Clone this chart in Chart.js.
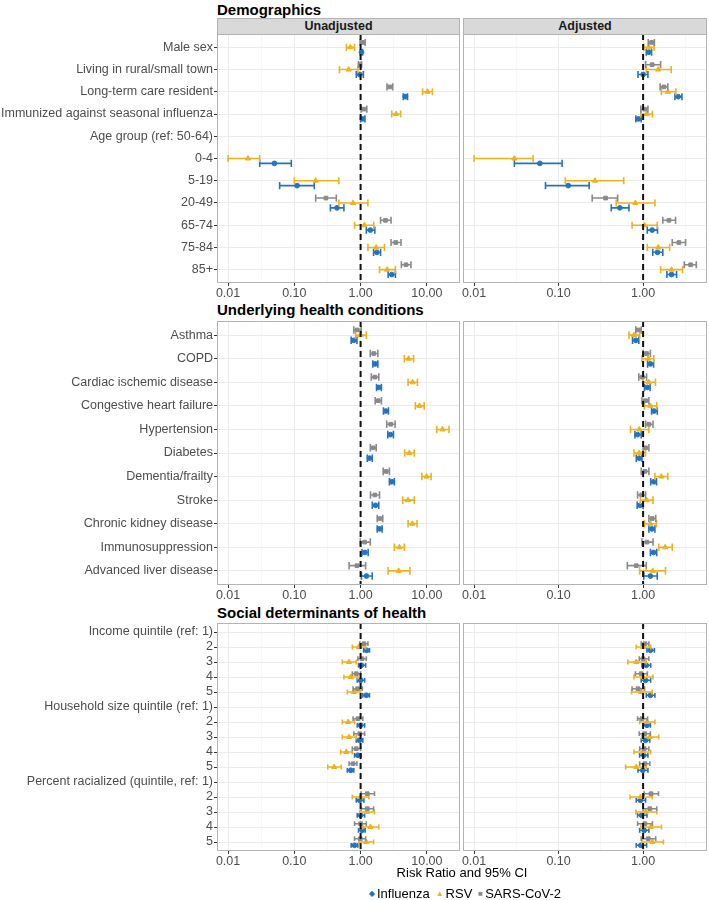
<!DOCTYPE html>
<html>
<head>
<meta charset="utf-8">
<script src="https://cdn.jsdelivr.net/npm/chart.js@4.4.0/dist/chart.umd.min.js"></script>
<style>
  body { margin: 0; background: #fff; font-family: "Liberation Sans", Arial, sans-serif; }
  #wrap { position: relative; width: 709px; height: 900px; overflow: hidden; }
  .box { position: absolute; }
  .title { position: absolute; left: 217px; font-weight: bold; font-size: 15px; color: #000; }
  .strip { position: absolute; top: 18px; height: 15px; background: #D9D9D9; border: 1px solid #B3B3B3;
           text-align: center; font-weight: bold; font-size: 12.5px; line-height: 15px; color: #1A1A1A; box-sizing: content-box; }
  #xtitle { position: absolute; left: 217px; width: 490px; top: 865px; text-align: center; font-size: 13px; color: #000; }
  #legend { position: absolute; left: 217px; width: 490px; top: 886px; text-align: center; font-size: 13px; color: #000; }
  #legend .k { font-size: 8px; vertical-align: 2px; margin: 0 2px 0 6px; }
</style>
</head>
<body>
<div id="wrap">
  <div class="title" style="top:1px">Demographics</div>
  <div class="strip" style="left:217px;width:241px">Unadjusted</div>
  <div class="strip" style="left:463px;width:242px">Adjusted</div>
  <div class="box" style="left:0;top:34px"><canvas id="c1u" width="460" height="267"></canvas></div>
  <div class="box" style="left:455px;top:34px"><canvas id="c1a" width="252" height="267"></canvas></div>

  <div class="title" style="top:301px">Underlying health conditions</div>
  <div class="box" style="left:0;top:321px"><canvas id="c2u" width="460" height="282"></canvas></div>
  <div class="box" style="left:455px;top:321px"><canvas id="c2a" width="252" height="282"></canvas></div>

  <div class="title" style="top:604px">Social determinants of health</div>
  <div class="box" style="left:0;top:623px"><canvas id="c3u" width="460" height="246"></canvas></div>
  <div class="box" style="left:455px;top:623px"><canvas id="c3a" width="252" height="246"></canvas></div>

  <div id="xtitle">Risk Ratio and 95% CI</div>
  <div id="legend"><span class="k" style="color:#2473C3">&#9670;</span>Influenza<span class="k" style="color:#EFB21E">&#9650;</span>RSV<span class="k" style="color:#8A8A8A">&#9632;</span>SARS-CoV-2</div>
</div>
<script>
// row labels
const demoRows = ['Male sex', 'Living in rural/small town', 'Long-term care resident', 'Immunized against seasonal influenza',
  'Age group (ref: 50-64)', '0-4', '5-19', '20-49', '65-74', '75-84', '85+'];
const healthRows = ['Asthma', 'COPD', 'Cardiac ischemic disease', 'Congestive heart failure', 'Hypertension', 'Diabetes',
  'Dementia/frailty', 'Stroke', 'Chronic kidney disease', 'Immunosuppression', 'Advanced liver disease'];
const socialRows = ['Income quintile (ref: 1)', '2', '3', '4', '5', 'Household size quintile (ref: 1)', '2', '3', '4', '5',
  'Percent racialized (quintile, ref: 1)', '2', '3', '4', '5'];

// x ticks
const xTickValues = [0.01, 0.1, 1, 10];
const xTickLabels = ['0.01', '0.10', '1.00', '10.00'];

// [risk ratio, lower CI, upper CI]
const demoUnadjFlu = [[1.03,0.99,1.07],[0.97,0.86,1.10],[4.73,4.4,5.1],[1.07,1.0,1.16],null,[0.05,0.03,0.09],[0.11,0.06,0.20],[0.44,0.35,0.56],[1.40,1.22,1.64],[1.76,1.57,2.0],[2.95,2.6,3.35]];
const demoUnadjRsv = [[0.70,0.61,0.81],[0.66,0.48,0.91],[10.2,8.6,12.1],[3.43,2.95,4.02],null,[0.02,0.01,0.03],[0.21,0.10,0.47],[0.77,0.47,1.29],[1.14,0.81,1.58],[1.72,1.29,2.29],[2.51,1.93,3.35]];
const demoUnadjCov = [[1.07,0.98,1.17],[0.98,0.93,1.03],[2.76,2.5,3.05],[1.12,1.02,1.24],null,null,null,[0.30,0.21,0.43],[2.37,2.0,2.88],[3.39,2.88,4.07],[4.84,4.12,5.75]];

const demoAdjFlu = [[1.17,1.09,1.26],[1.0,0.87,1.14],[2.6,2.38,2.88],[0.88,0.82,0.95],null,[0.06,0.03,0.11],[0.13,0.07,0.23],[0.53,0.42,0.68],[1.28,1.12,1.48],[1.48,1.30,1.71],[2.17,1.91,2.49]];
const demoAdjRsv = [[1.17,1.02,1.35],[1.51,1.09,2.15],[1.96,1.64,2.44],[1.1,0.94,1.29],null,[0.03,0.01,0.05],[0.27,0.12,0.59],[0.81,0.48,1.38],[1.04,0.74,1.47],[1.51,1.12,2.06],[2.17,1.61,2.93]];
const demoAdjCov = [[1.26,1.15,1.36],[1.28,1.07,1.61],[1.76,1.59,1.96],[1.04,0.94,1.14],null,null,null,[0.36,0.25,0.50],[2.02,1.71,2.42],[2.65,2.21,3.18],[3.65,3.07,4.26]];

const healthUnadjFlu = [[0.79,0.72,0.88],[1.66,1.53,1.82],[1.88,1.74,2.06],[2.4,2.21,2.63],[2.82,2.57,3.13],[1.36,1.26,1.5],[2.95,2.72,3.23],[1.68,1.5,1.88],[1.93,1.78,2.11],[1.16,1.05,1.30],[1.22,1.03,1.50]];
const healthUnadjRsv = [[1.0,0.84,1.22],[5.31,4.57,6.31],[6.1,5.2,7.2],[7.76,6.7,9.1],[17.2,14.1,21.6],[5.43,4.62,6.45],[9.9,8.4,11.6],[5.19,4.32,6.45],[6.03,5.2,7.1],[3.85,3.23,4.57],[3.76,2.6,5.55]];
const healthUnadjCov = [[0.89,0.79,1.02],[1.58,1.40,1.82],[1.64,1.45,1.88],[1.84,1.66,2.06],[2.85,2.48,3.31],[1.55,1.40,1.72],[2.43,2.19,2.72],[1.64,1.41,1.93],[1.95,1.78,2.16],[1.15,0.99,1.40],[0.88,0.67,1.19]];

const healthAdjFlu = [[0.82,0.75,0.89],[1.22,1.13,1.33],[1.12,1.04,1.21],[1.35,1.26,1.47],[0.86,0.80,0.95],[0.90,0.83,0.97],[1.34,1.23,1.44],[0.92,0.85,1.0],[1.27,1.17,1.38],[1.33,1.22,1.45],[1.22,1.02,1.47]];
const healthAdjRsv = [[0.78,0.68,0.91],[1.15,0.97,1.34],[1.17,1.0,1.40],[1.22,1.04,1.45],[0.90,0.71,1.17],[0.90,0.78,1.07],[1.64,1.38,1.96],[1.10,0.93,1.31],[1.22,1.04,1.44],[1.83,1.53,2.21],[1.30,0.91,1.84]];
const healthAdjCov = [[0.88,0.82,0.95],[1.10,1.0,1.22],[0.98,0.89,1.10],[1.07,0.97,1.17],[1.17,1.07,1.31],[1.07,1.0,1.17],[1.05,0.95,1.17],[0.96,0.86,1.07],[1.28,1.17,1.41],[1.11,0.97,1.31],[0.83,0.65,1.09]];

const socialUnadjFlu = [null,[1.23,1.11,1.36],[1.03,0.93,1.19],[1.0,0.89,1.15],[1.22,1.08,1.36],null,[1.0,0.89,1.15],[0.96,0.86,1.08],[0.91,0.81,1.02],[0.71,0.63,0.79],null,[0.97,0.86,1.12],[1.0,0.89,1.15],[1.05,0.93,1.17],[0.81,0.72,0.91]];
const socialUnadjRsv = [null,[0.94,0.75,1.19],[0.67,0.53,0.86],[0.71,0.56,0.91],[0.79,0.63,1.0],null,[0.65,0.53,0.81],[0.67,0.53,0.86],[0.61,0.50,0.75],[0.40,0.32,0.51],null,[1.0,0.75,1.33],[1.24,0.97,1.62],[1.41,1.08,1.88],[1.22,0.94,1.57]];
const socialUnadjCov = [null,[1.12,0.97,1.29],[1.05,0.91,1.22],[0.86,0.75,1.0],[0.90,0.77,1.06],null,[0.91,0.77,1.08],[0.97,0.79,1.15],[0.86,0.75,1.0],[0.77,0.67,0.88],null,[1.26,1.02,1.62],[1.26,1.02,1.57],[1.0,0.81,1.22],[0.99,0.81,1.19]];

const socialAdjFlu = [null,[1.22,1.11,1.36],[1.09,0.97,1.23],[1.07,0.95,1.23],[1.22,1.09,1.38],null,[1.11,1.0,1.22],[1.07,0.95,1.2],[1.02,0.91,1.14],[0.99,0.87,1.14],null,[0.93,0.83,1.07],[0.96,0.86,1.11],[1.03,0.91,1.17],[0.94,0.83,1.1]];
const socialAdjRsv = [null,[1.0,0.83,1.23],[0.83,0.66,1.09],[1.0,0.78,1.31],[0.95,0.73,1.28],null,[1.11,0.91,1.38],[1.20,0.96,1.53],[0.99,0.78,1.23],[0.83,0.62,1.09],null,[0.93,0.70,1.28],[1.07,0.82,1.45],[1.23,0.94,1.65],[1.29,0.97,1.74]];
const socialAdjCov = [null,[1.05,0.95,1.17],[1.0,0.9,1.17],[0.95,0.81,1.12],[0.87,0.74,1.04],null,[0.97,0.86,1.13],[1.04,0.9,1.22],[1.03,0.91,1.17],[1.05,0.91,1.2],null,[1.24,1.03,1.52],[1.20,1.0,1.45],[1.05,0.86,1.29],[1.15,0.95,1.41]];

const FLU = '#2473C3', RSV = '#EFB21E', COV = '#8A8A8A';
const TEXT = '#4D4D4D';
const FONT = '"Liberation Sans", Arial, sans-serif';

// panel frame like ggplot
const panelBorder = {
  id: 'panelBorder',
  afterDraw(chart) {
    const { ctx, chartArea: a } = chart;
    ctx.save();
    ctx.strokeStyle = '#B3B3B3';
    ctx.lineWidth = 1;
    ctx.strokeRect(a.left + 0.5, a.top + 0.5, a.width - 1, a.height - 1);
    ctx.restore();
  }
};

function errorBarData(values, offset, cap) {
  const pts = [];
  values.forEach((v, i) => {
    if (!v) return;
    const y = i + offset;
    pts.push({ x: v[1], y: y }, { x: v[2], y: y }, { x: null, y: null });
    pts.push({ x: v[1], y: y - cap }, { x: v[1], y: y + cap }, { x: null, y: null });
    pts.push({ x: v[2], y: y - cap }, { x: v[2], y: y + cap }, { x: null, y: null });
  });
  return pts;
}

function pointData(values, offset) {
  const pts = [];
  values.forEach((v, i) => { if (v) pts.push({ x: v[0], y: i + offset }); });
  return pts;
}

function makePanel(id, rows, flu, rsv, cov, xMin, xMax, left) {
  const n = rows.length;
  const dodge = 0.22, cap = 0.16;
  const series = [
    { vals: cov, color: COV, style: 'rect', r: 2.6, off: -dodge },
    { vals: rsv, color: RSV, style: 'triangle', r: 3, off: 0 },
    { vals: flu, color: FLU, style: 'circle', r: 2.4, off: dodge }
  ];

  const datasets = [{
    type: 'scatter', showLine: true,
    data: [{ x: 1, y: -0.6 }, { x: 1, y: n - 0.4 }],
    borderColor: '#111', borderWidth: 2, borderDash: [6, 4], pointRadius: 0
  }];
  series.forEach(s => {
    datasets.push({
      type: 'scatter', data: pointData(s.vals, s.off),
      pointStyle: s.style, pointRadius: s.r, backgroundColor: s.color, borderColor: s.color, borderWidth: 1
    });
    datasets.push({
      type: 'scatter', showLine: true, spanGaps: false, data: errorBarData(s.vals, s.off, cap),
      borderColor: s.color, borderWidth: 1.6, pointRadius: 0
    });
  });

  // major ticks plus ggplot-style minor gridlines halfway (log) between them
  const gridVals = [];
  xTickValues.forEach((v, i) => {
    gridVals.push(v);
    gridVals.push(Math.sqrt(v * (xTickValues[i + 1] || v * 10)));
  });
  const isMajor = v => xTickValues.includes(v);

  new Chart(document.getElementById(id), {
    type: 'scatter',
    data: { datasets },
    plugins: [panelBorder],
    options: {
      responsive: false,
      animation: false,
      events: [],
      layout: { padding: 0, autoPadding: false },
      plugins: { legend: { display: false }, tooltip: { enabled: false } },
      scales: {
        x: {
          type: 'logarithmic', min: xMin, max: xMax,
          afterBuildTicks: scale => {
            scale.ticks = gridVals.filter(v => v >= xMin && v <= xMax).map(v => ({ value: v }));
          },
          afterFit: scale => {
            scale.height = 18;
            scale.paddingLeft = 0; scale.paddingRight = 0; scale.paddingTop = 0; scale.paddingBottom = 0;
          },
          border: { display: false },
          grid: {
            color: ctx => isMajor(ctx.tick.value) ? '#EBEBEB' : '#F4F4F4',
            lineWidth: ctx => isMajor(ctx.tick.value) ? 1 : 0.7,
            tickColor: ctx => isMajor(ctx.tick.value) ? '#333' : 'rgba(0,0,0,0)',
            tickLength: 3
          },
          ticks: {
            autoSkip: false, maxRotation: 0, padding: 0,
            color: TEXT, font: { family: FONT, size: 12.5 },
            callback: v => isMajor(v) ? xTickLabels[xTickValues.indexOf(v)] : ''
          }
        },
        y: {
          type: 'linear', reverse: true, min: -0.6, max: n - 0.4,
          afterBuildTicks: scale => { scale.ticks = rows.map((r, i) => ({ value: i })); },
          afterFit: scale => {
            scale.width = left ? 217 : 8;
            scale.paddingLeft = 0; scale.paddingRight = 0; scale.paddingTop = 0; scale.paddingBottom = 0;
          },
          border: { display: false },
          grid: { color: '#EBEBEB', lineWidth: 1, tickColor: '#333', tickLength: 3, drawTicks: left },
          ticks: {
            display: left, autoSkip: false, padding: 1,
            color: TEXT, font: { family: FONT, size: 12.5 },
            callback: v => rows[v]
          }
        }
      }
    }
  });
}

const UNADJ_MIN = 0.00681, UNADJ_MAX = 31.6;
const ADJ_MIN = 0.0074, ADJ_MAX = 5.7;

makePanel('c1u', demoRows, demoUnadjFlu, demoUnadjRsv, demoUnadjCov, UNADJ_MIN, UNADJ_MAX, true);
makePanel('c1a', demoRows, demoAdjFlu, demoAdjRsv, demoAdjCov, ADJ_MIN, ADJ_MAX, false);
makePanel('c2u', healthRows, healthUnadjFlu, healthUnadjRsv, healthUnadjCov, UNADJ_MIN, UNADJ_MAX, true);
makePanel('c2a', healthRows, healthAdjFlu, healthAdjRsv, healthAdjCov, ADJ_MIN, ADJ_MAX, false);
makePanel('c3u', socialRows, socialUnadjFlu, socialUnadjRsv, socialUnadjCov, UNADJ_MIN, UNADJ_MAX, true);
makePanel('c3a', socialRows, socialAdjFlu, socialAdjRsv, socialAdjCov, ADJ_MIN, ADJ_MAX, false);
</script>
</body>
</html>
